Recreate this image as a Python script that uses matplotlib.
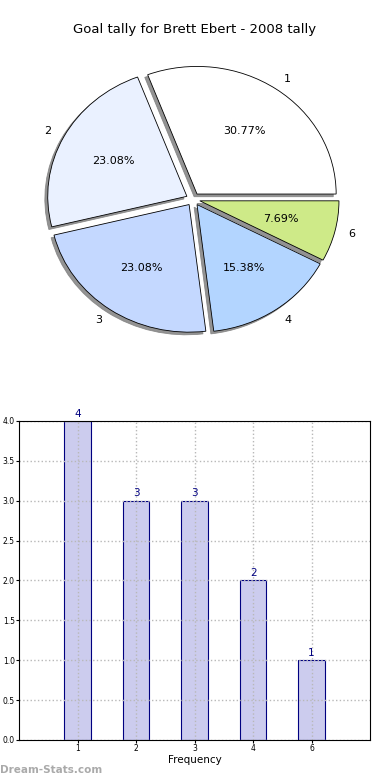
import numpy as np
import matplotlib
matplotlib.use('Agg')
import matplotlib.pyplot as plt

# Dati
goals = ['1', '2', '3', '4', '6']
counts = [4, 3, 3, 2, 1]
pie_colors = ['#ffffff', '#eaf1ff', '#c4d8ff', '#b3d5ff', '#ceea88']

fig = plt.figure(figsize=(3.9, 7.8), dpi=100)

# Torta
ax1 = fig.add_axes([0.049, 0.540, 0.892, 0.409])
wedges, texts, autotexts = ax1.pie(counts, labels=goals, colors=pie_colors,
                                   explode=[0.05] * len(counts),
                                   shadow={'ox': -0.015, 'oy': -0.015,
                                           'facecolor': '#808080', 'edgecolor': '#808080',
                                           'alpha': 0.85},
                                   autopct='%1.2f%%', startangle=0,
                                   wedgeprops=dict(edgecolor='black', linewidth=0.6),
                                   textprops=dict(fontsize=8))
ax1.set_aspect('auto')
ax1.set_xlim(-1.25, 1.25)
ax1.set_ylim(-1.25, 1.25)
fig.text(0.5, 1 - 30 / 780, 'Goal tally for Brett Ebert - 2008 tally',
         ha='center', va='center', fontsize=9.5)

# Barre
ax2 = fig.add_axes([0.049, 0.0513, 0.9, 0.409])
x = np.arange(len(goals))
ax2.bar(x, counts, width=0.45, color='#ccccee', edgecolor='#000080',
        linewidth=0.8, zorder=2)
for xi, c in zip(x, counts):
    ax2.text(xi, c + 0.03, str(c), ha='center', va='bottom', color='#000080', fontsize=7.5)
ax2.set_xlim(-1, 5)
ax2.set_ylim(0, 4)
ax2.set_xticks(x)
ax2.set_xticklabels(goals)
ax2.set_yticks(np.arange(0, 4.01, 0.5))
ax2.tick_params(labelsize=5.5, length=2, pad=1)
ax2.grid(True, linestyle=':', color='#b8b8b8', linewidth=1, zorder=3)
ax2.set_axisbelow(False)
for s in ax2.spines.values():
    s.set_zorder(4)
ax2.set_xlabel('Frequency', fontsize=7.5, labelpad=1)

fig.text(0.0, 1 - 770 / 780, 'Dream-Stats.com', ha='left', va='center',
         fontsize=7.5, color='#aaaaaa', fontweight='bold')

plt.savefig('out.png', dpi=100)
